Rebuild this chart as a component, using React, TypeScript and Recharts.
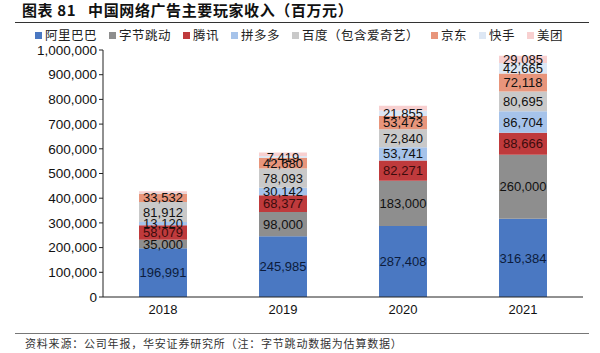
import React from "react";
import { BarChart, Bar, XAxis, YAxis, LabelList } from "recharts";

const years = ["2018", "2019", "2020", "2021"];
const companies = [
  "阿里巴巴",
  "字节跳动",
  "腾讯",
  "拼多多",
  "百度（包含爱奇艺）",
  "京东",
  "快手",
  "美团",
];
const colors = [
  "#4a78c2",
  "#8e8e8e",
  "#bf3a3c",
  "#a6c3ea",
  "#c9c9c9",
  "#e8957b",
  "#dde7f4",
  "#f8d0d0",
];
const labelColors = [
  "#0c1c3c",
  "#111111",
  "#3c0c0c",
  "#111111",
  "#111111",
  "#111111",
  "#111111",
  "#111111",
];

const alibaba = [196991, 245985, 287408, 316384];
const bytedance = [35000, 98000, 183000, 260000];
const tencent = [58079, 68377, 82271, 88666];
const pinduoduo = [13120, 30142, 53741, 86704];
const baidu = [81912, 78093, 72840, 80695];
const jd = [33532, 42680, 53473, 72118];
const kuaishou = [2000, 7419, 21855, 42665];
const meituan = [8000, 14000, 20000, 29085];
// labels not printed in the reference
const hiddenLabels = ["快手-2018", "美团-2018", "美团-2019", "美团-2020"];

const series = [alibaba, bytedance, tencent, pinduoduo, baidu, jd, kuaishou, meituan];
const yTicks = [0, 100000, 200000, 300000, 400000, 500000, 600000, 700000, 800000, 900000, 1000000];

const data = years.map((year, i) => {
  const row: Record<string, string | number | null> = { year };
  companies.forEach((c, k) => {
    row["s" + k] = series[k][i];
    row["l" + k] = hiddenLabels.includes(c.slice(0, 2) + "-" + year)
      ? null
      : series[k][i].toLocaleString("en-US");
  });
  return row;
});

const fmt = (v: number) => v.toLocaleString("en-US");
const cjk = '"Noto Sans CJK SC", "Noto Sans", sans-serif';
const latin = '"Liberation Sans", Arial, sans-serif';

export default function App() {
  return (
    <div
      style={{
        position: "fixed",
        top: 0,
        left: 0,
        width: 600,
        height: 353,
        background: "#fff",
        overflow: "hidden",
      }}
    >
      <div
        style={{
          position: "absolute",
          left: 22,
          top: 0,
          fontFamily: cjk,
          fontWeight: 700,
          fontSize: 15,
          lineHeight: "20px",
          color: "#111",
          whiteSpace: "nowrap",
          letterSpacing: 0.6,
        }}
      >
        图表 81&nbsp;&nbsp;&nbsp;中国网络广告主要玩家收入（百万元）
      </div>
      <div style={{ position: "absolute", left: 15, top: 22, width: 574, height: 1, background: "#333" }} />
      <div
        style={{
          position: "absolute",
          left: 35,
          top: 27,
          display: "flex",
          fontFamily: cjk,
          fontSize: 12.5,
          lineHeight: "16px",
          color: "#222",
          whiteSpace: "nowrap",
          letterSpacing: 0.5,
        }}
      >
        {companies.map((c, k) => (
          <div key={c} style={{ display: "flex", alignItems: "center", marginRight: 12 }}>
            <span style={{ width: 7, height: 7, background: colors[k], marginRight: 3 }} />
            {c}
          </div>
        ))}
      </div>
      <div style={{ position: "absolute", left: 0, top: 0 }}>
        <BarChart
          width={600}
          height={353}
          data={data}
          margin={{ top: 50, right: 17, bottom: 26, left: 0 }}
          barCategoryGap="30%"
        >
          <XAxis
            dataKey="year"
            tickLine={false}
            axisLine={{ stroke: "#222" }}
            tick={{ fill: "#111", fontSize: 13, fontFamily: latin }}
            height={30}
          />
          <YAxis
            width={103}
            domain={[0, 1000000]}
            ticks={yTicks}
            interval={0}
            tickFormatter={fmt}
            axisLine={{ stroke: "#222" }}
            tickLine={{ stroke: "#222" }}
            tickSize={4}
            tick={{ fill: "#111", fontSize: 13.5, fontFamily: latin }}
          />
          {companies.map((c, k) => (
            <Bar key={c} dataKey={"s" + k} stackId="a" fill={colors[k]} isAnimationActive={false}>
              <LabelList
                dataKey={"l" + k}
                position="center"
                fill={labelColors[k]}
                style={{ fontSize: 13, fontFamily: latin }}
              />
            </Bar>
          ))}
        </BarChart>
      </div>
      <div style={{ position: "absolute", left: 15, top: 333, width: 574, height: 1, background: "#777" }} />
      <div
        style={{
          position: "absolute",
          left: 25,
          top: 335,
          fontFamily: cjk,
          fontSize: 11,
          lineHeight: "16px",
          color: "#333",
          whiteSpace: "nowrap",
          letterSpacing: 0.8,
        }}
      >
        资料来源：公司年报，华安证券研究所（注：字节跳动数据为估算数据）
      </div>
    </div>
  );
}
